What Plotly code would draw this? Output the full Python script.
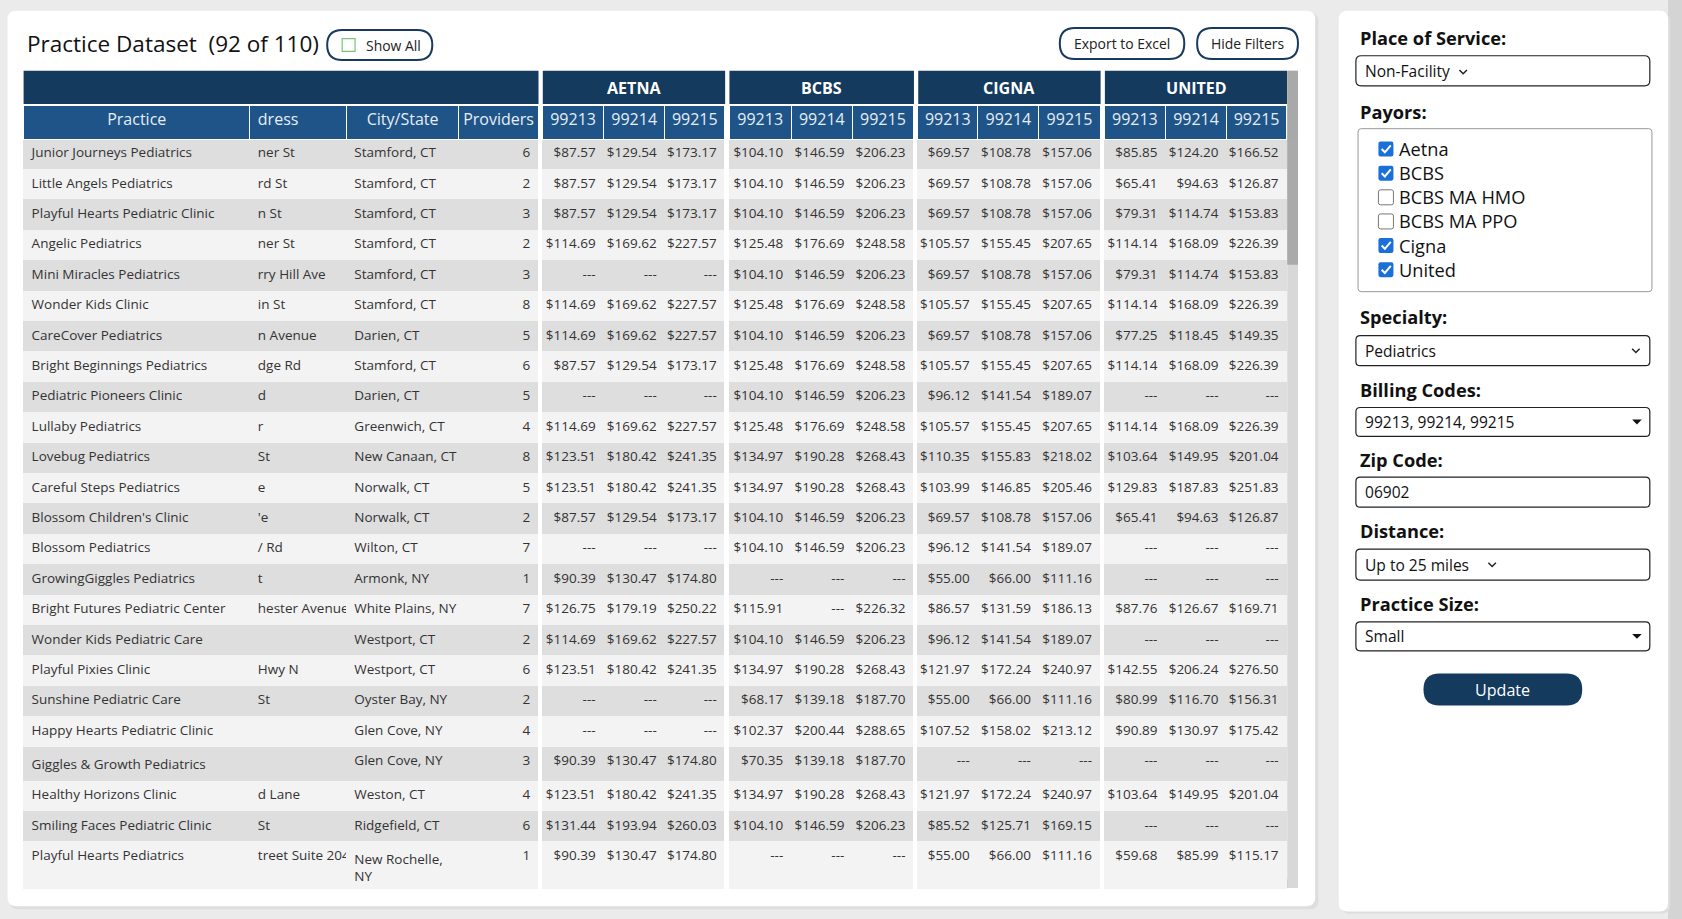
import plotly.graph_objects as go

practices = ["Junior Journeys Pediatrics","Little Angels Pediatrics","Playful Hearts Pediatric Clinic","Angelic Pediatrics",
 "Mini Miracles Pediatrics","Wonder Kids Clinic","CareCover Pediatrics","Bright Beginnings Pediatrics","Pediatric Pioneers Clinic",
 "Lullaby Pediatrics","Lovebug Pediatrics","Careful Steps Pediatrics","Blossom Children's Clinic","Blossom Pediatrics",
 "GrowingGiggles Pediatrics","Bright Futures Pediatric Center","Wonder Kids Pediatric Care","Playful Pixies Clinic",
 "Sunshine Pediatric Care","Happy Hearts Pediatric Clinic","Giggles & Growth Pediatrics","Healthy Horizons Clinic",
 "Smiling Faces Pediatric Clinic","Playful Hearts Pediatrics"]
addresses = ["ner St","rd St","n St","ner St","rry Hill Ave","in St","n Avenue","dge Rd","d","r","St","e","'e","/ Rd","t",
 "hester Avenue","","Hwy N","St","","","d Lane","St","treet Suite 204"]
cities = ["Stamford, CT","Stamford, CT","Stamford, CT","Stamford, CT","Stamford, CT","Stamford, CT","Darien, CT","Stamford, CT",
 "Darien, CT","Greenwich, CT","New Canaan, CT","Norwalk, CT","Norwalk, CT","Wilton, CT","Armonk, NY","White Plains, NY",
 "Westport, CT","Westport, CT","Oyster Bay, NY","Glen Cove, NY","Glen Cove, NY","Weston, CT","Ridgefield, CT","New Rochelle,<br>NY"]
providers = [6,2,3,2,3,8,5,6,5,4,8,5,2,7,1,7,2,6,2,4,3,4,6,1]
N = None
aetna = [[87.57,129.54,173.17],[87.57,129.54,173.17],[87.57,129.54,173.17],[114.69,169.62,227.57],[N,N,N],
 [114.69,169.62,227.57],[114.69,169.62,227.57],[87.57,129.54,173.17],[N,N,N],[114.69,169.62,227.57],
 [123.51,180.42,241.35],[123.51,180.42,241.35],[87.57,129.54,173.17],[N,N,N],[90.39,130.47,174.80],
 [126.75,179.19,250.22],[114.69,169.62,227.57],[123.51,180.42,241.35],[N,N,N],[N,N,N],[90.39,130.47,174.80],
 [123.51,180.42,241.35],[131.44,193.94,260.03],[90.39,130.47,174.80]]
bcbs = [[104.10,146.59,206.23],[104.10,146.59,206.23],[104.10,146.59,206.23],[125.48,176.69,248.58],[104.10,146.59,206.23],
 [125.48,176.69,248.58],[104.10,146.59,206.23],[125.48,176.69,248.58],[104.10,146.59,206.23],[125.48,176.69,248.58],
 [134.97,190.28,268.43],[134.97,190.28,268.43],[104.10,146.59,206.23],[104.10,146.59,206.23],[N,N,N],
 [115.91,N,226.32],[104.10,146.59,206.23],[134.97,190.28,268.43],[68.17,139.18,187.70],[102.37,200.44,288.65],
 [70.35,139.18,187.70],[134.97,190.28,268.43],[104.10,146.59,206.23],[N,N,N]]
cigna = [[69.57,108.78,157.06],[69.57,108.78,157.06],[69.57,108.78,157.06],[105.57,155.45,207.65],[69.57,108.78,157.06],
 [105.57,155.45,207.65],[69.57,108.78,157.06],[105.57,155.45,207.65],[96.12,141.54,189.07],[105.57,155.45,207.65],
 [110.35,155.83,218.02],[103.99,146.85,205.46],[69.57,108.78,157.06],[96.12,141.54,189.07],[55.00,66.00,111.16],
 [86.57,131.59,186.13],[96.12,141.54,189.07],[121.97,172.24,240.97],[55.00,66.00,111.16],[107.52,158.02,213.12],
 [N,N,N],[121.97,172.24,240.97],[85.52,125.71,169.15],[55.00,66.00,111.16]]
united = [[85.85,124.20,166.52],[65.41,94.63,126.87],[79.31,114.74,153.83],[114.14,168.09,226.39],[79.31,114.74,153.83],
 [114.14,168.09,226.39],[77.25,118.45,149.35],[114.14,168.09,226.39],[N,N,N],[114.14,168.09,226.39],
 [103.64,149.95,201.04],[129.83,187.83,251.83],[65.41,94.63,126.87],[N,N,N],[N,N,N],
 [87.76,126.67,169.71],[N,N,N],[142.55,206.24,276.50],[80.99,116.70,156.31],[90.89,130.97,175.42],
 [N,N,N],[103.64,149.95,201.04],[N,N,N],[59.68,85.99,115.17]]
payors = ["AETNA","BCBS","CIGNA","UNITED"]
codes = ["99213","99214","99215"]
payor_list = ["Aetna","BCBS","BCBS MA HMO","BCBS MA PPO","Cigna","United"]
payor_checked = [True,True,False,False,True,True]

W, H = 1682, 919
SX, SY = W/1568, H/857
def X(x): return x*SX/W
def Y(y): return 1 - y*SY/H
shapes, ann = [], []
def rect(x0,y0,x1,y1,fill="rgba(0,0,0,0)",line=None,lw=1,layer="below"):
    shapes.append(dict(type="rect",xref="paper",yref="paper",x0=X(x0),x1=X(x1),y0=Y(y1),y1=Y(y0),
        fillcolor=fill,line=dict(color=line or "rgba(0,0,0,0)",width=lw if line else 0),layer=layer))
def rrect(x0,y0,x1,y1,r,fill="rgba(0,0,0,0)",line=None,lw=1,layer="below"):
    p=(f"M {X(x0+r)},{Y(y0)} L {X(x1-r)},{Y(y0)} Q {X(x1)},{Y(y0)} {X(x1)},{Y(y0+r)} "
       f"L {X(x1)},{Y(y1-r)} Q {X(x1)},{Y(y1)} {X(x1-r)},{Y(y1)} L {X(x0+r)},{Y(y1)} "
       f"Q {X(x0)},{Y(y1)} {X(x0)},{Y(y1-r)} L {X(x0)},{Y(y0+r)} Q {X(x0)},{Y(y0)} {X(x0+r)},{Y(y0)} Z")
    shapes.append(dict(type="path",xref="paper",yref="paper",path=p,fillcolor=fill,
        line=dict(color=line or "rgba(0,0,0,0)",width=lw if line else 0),layer=layer))
def chevron(x,y,s=4,color="#222",lw=1.5):
    p=f"M {X(x-s)},{Y(y-s/2)} L {X(x)},{Y(y+s/2)} L {X(x+s)},{Y(y-s/2)}"
    shapes.append(dict(type="path",xref="paper",yref="paper",path=p,line=dict(color=color,width=lw),layer="above"))
def tri(x,y,s=5,color="#111"):
    p=f"M {X(x-s)},{Y(y-s/2)} L {X(x+s)},{Y(y-s/2)} L {X(x)},{Y(y+s/2)} Z"
    shapes.append(dict(type="path",xref="paper",yref="paper",path=p,fillcolor=color,line=dict(width=0),layer="above"))
def text(x,y,s,size,color="#111",bold=False,xa="left",fam="Open Sans"):
    ann.append(dict(xref="paper",yref="paper",x=X(x),y=Y(y),text=f"<b>{s}</b>" if bold else s,showarrow=False,
        xanchor=xa,yanchor="middle",font=dict(family=fam,size=size*SX,color=color)))

# page & cards
rect(0,0,1568,857,fill="#ebebeb")
rect(1555,0,1568,857,fill="#d4d4d4")
rrect(9,12,1229,848,8,fill="#dedede")
rrect(7,10,1226,845,8,fill="#ffffff")
rrect(1250,12,1557,852,8,fill="#dedede")
rrect(1248,10,1555,850,8,fill="#ffffff")

# title & buttons
text(23,41,"Practice Dataset  (92 of 110)",21,"#111")
rrect(305,28,403,56,14,line="#173a5e",lw=2)
rect(319,36,331,48,line="#7cc576",lw=1.2)
text(339,42,"Show All",13,"#222")
rrect(988,26,1104,55,14,line="#173a5e",lw=2)
text(1046,40.5,"Export to Excel",13,"#222",xa="center")
rrect(1116,26,1210,55,14,line="#173a5e",lw=2)
text(1163,40.5,"Hide Filters",13,"#222",xa="center")

# top header row
rect(22,66,502,97,fill="#143a5e")
gx = [(506,676),(680,852),(856,1026),(1030,1200)]
for (a,b),p in zip(gx,payors):
    rect(a,66,b,97,fill="#143a5e")
    text((a+b)/2,82,p,15,"#ffffff",bold=True,xa="center")
# scrollbars
rect(1200,66,1210,828,fill="#d8d8d8")
rect(1200,66,1210,247,fill="#a9a9a9")
rect(22,820,1200,828,fill="#d8d8d8")
rect(160,820,1200,828,fill="#a9a9a9")

# table
def fmt(v): return "---" if v is None else f"${v:.2f}"
def nb(s): return s.replace(" ", "\u00a0")
n = len(practices)
rowfill = ["#dedede" if i%2==0 else "#f3f3f3" for i in range(n)]
white = ["#ffffff"]*n
cols = [[nb(p) for p in practices], [nb(a) for a in addresses], [nb(c) for c in cities],
        [str(p) for p in providers], [""]*n]
hdr = ["Practice","dress","City/State","Providers",""]
fills = [rowfill]*4+[white]
widths = [211,90,105,74,4]
aligns = ["left","left","left","right","left"]
hal = ["center","left","center","center","center"]
hfill = ["#1f5488"]*4+["#ffffff"]
for gi,data in enumerate([aetna,bcbs,cigna,united]):
    for ci in range(3):
        cols.append([fmt(r[ci]) for r in data]); hdr.append(codes[ci]); fills.append(rowfill)
        aligns.append("right"); hal.append("center"); hfill.append("#1f5488")
    widths += [[57,57,56],[58,57,57],[56,57,57],[57,57,56]][gi]
    if gi<3:
        cols.append([""]*n); hdr.append(""); fills.append(white); aligns.append("left"); hal.append("center")
        hfill.append("#ffffff"); widths.append(4)

tbl = go.Table(
    domain=dict(x=[X(22),X(1200)], y=[Y(830),Y(98)]),
    columnwidth=widths,
    header=dict(values=hdr, fill_color=hfill, align=hal, height=34,
                line=dict(color="#ffffff",width=1),
                font=dict(family="Open Sans",size=16,color="#e6edf5")),
    cells=dict(values=cols, fill_color=fills, line=dict(color=fills,width=1), align=aligns, height=30.4,
               font=dict(family="Open Sans",size=13.5,color="#333333")))

# right panel
L = 1266
text(L,35,"Place of Service:",17,"#111",bold=True)
rrect(1264,52,1538,80,5,line="#222",lw=1.2)
text(1271,66,"Non-Facility",14.5,"#111")
chevron(1364,67,3.5)
text(L,104,"Payors:",17,"#111",bold=True)
rrect(1266,120,1540,272,3,line="#999",lw=1)
for i,(p,c) in enumerate(zip(payor_list,payor_checked)):
    yy = 139+22.5*i
    if c:
        rrect(1285,yy-7,1299,yy+7,2,fill="#1a6fd8",layer="above")
        shapes.append(dict(type="path",xref="paper",yref="paper",layer="above",
            path=f"M {X(1288)},{Y(yy)} L {X(1291)},{Y(yy+3)} L {X(1296.5)},{Y(yy-3.5)}",
            line=dict(color="#ffffff",width=2)))
    else:
        rrect(1285,yy-7,1299,yy+7,2,fill="#ffffff",line="#777",lw=1,layer="above")
    text(1302,yy,p,17,"#111")
boxes = [("Specialty:",296,313,341,"Pediatrics","chev"),("Billing Codes:",364,380,407,"99213, 99214, 99215","tri"),
         ("Zip Code:",429,445,473,"06902",None),("Distance:",495,512,541,"Up to 25 miles","chev2"),
         ("Practice Size:",563,580,607,"Small","tri")]
for lab,ly,y0,y1,val,kind in boxes:
    text(L,ly,lab,17,"#111",bold=True)
    rrect(1264,y0,1538,y1,4,line="#222",lw=1.2)
    text(1271,(y0+y1)/2,val,14.5,"#111")
    if kind=="chev": chevron(1525,(y0+y1)/2,3.5)
    elif kind=="chev2": chevron(1391,(y0+y1)/2,3.5)
    elif kind=="tri": tri(1526,(y0+y1)/2,4.5)
rrect(1327,628,1475,658,15,fill="#143a5e")
text(1401,643,"Update",15,"#ffffff",xa="center")

fig = go.Figure(tbl)
fig.update_layout(width=W,height=H,margin=dict(l=0,r=0,t=0,b=0),paper_bgcolor="#ebebeb",
                  plot_bgcolor="#ebebeb",shapes=shapes,annotations=ann,
                  xaxis=dict(visible=False),yaxis=dict(visible=False))
fig.write_html("out.html", config={"displayModeBar":False},
               post_script="document.body.style.margin='0';document.body.style.overflow='hidden';")
